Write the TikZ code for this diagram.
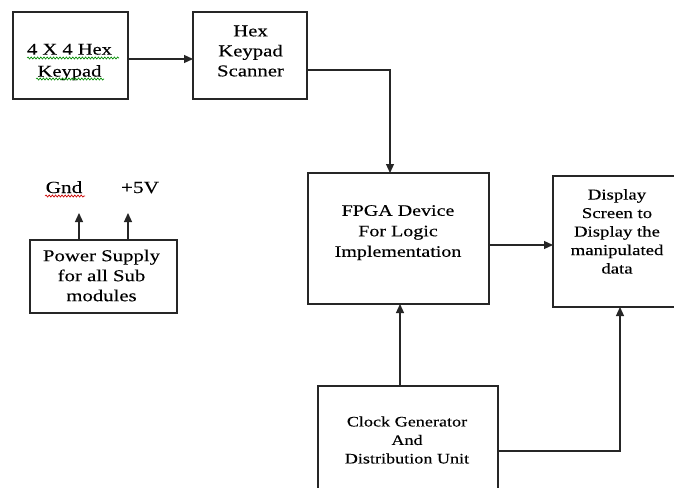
\documentclass[tikz,border=0pt]{standalone}
\usepackage{fontspec}
\setmainfont[FakeStretch=1.25,FakeBold=0.2]{Liberation Serif}
\usetikzlibrary{arrows.meta,decorations.pathmorphing}
\begin{document}
\begin{tikzpicture}[x=1pt,y=-1pt,
  box/.style={draw=black!85,line width=1.2pt,rectangle,inner sep=0pt,outer sep=0pt},
  conn/.style={draw=black!85,line width=1.2pt,-{Triangle[length=9pt,width=8pt]}},
  lbl/.style={align=center,inner sep=0pt,text=black},
  wavyg/.style={draw=green!55!black,line width=0.7pt,decorate,decoration={snake,amplitude=1pt,segment length=3.2pt}},
  wavyr/.style={draw=red!80!black,line width=0.7pt,decorate,decoration={snake,amplitude=1pt,segment length=3.2pt}}]
\useasboundingbox (0,0) rectangle (674,487);
\clip (0,0) rectangle (674,487);
\fill[white] (0,0) rectangle (674,487);

% boxes
\node[box,minimum width=115pt,minimum height=87pt] (kp) at (70.5,55.5) {};
\node[box,minimum width=114pt,minimum height=87pt] (sc) at (250,55.5) {};
\node[box,minimum width=147pt,minimum height=73pt] (pw) at (103.5,276.5) {};
\node[box,minimum width=181pt,minimum height=131pt] (fp) at (398.5,238.5) {};
\node[box,minimum width=137pt,minimum height=131pt] (ds) at (621.5,241.5) {};
\node[box,minimum width=180pt,minimum height=134pt] (ck) at (408,453) {};

% texts
\node[lbl,font=\fontsize{16.4}{22}\selectfont] (kpt) at (69.5,62) {4 X 4 Hex\\Keypad};
\node[lbl,font=\fontsize{16.6}{20}\selectfont] (sct) at (250.5,51) {Hex\\Keypad\\Scanner};
\node[lbl,font=\fontsize{16}{20.5}\selectfont] (fpt) at (398,232.7) {FPGA Device\\For Logic\\Implementation};
\node[lbl,font=\fontsize{15}{18.5}\selectfont] (dst) at (617,231.4) {Display\\Screen to\\Display the\\manipulated\\data};
\node[lbl,font=\fontsize{14.5}{18.5}\selectfont] (ckt) at (407,440) {Clock Generator\\And\\Distribution Unit};
\node[lbl,font=\fontsize{16.6}{20}\selectfont] (pwt) at (101.5,275.5) {Power Supply\\for all Sub\\modules};
\node[lbl,font=\fontsize{17}{20}\selectfont,anchor=base] (gnd) at (64,193) {Gnd};
\node[lbl,font=\fontsize{17}{20}\selectfont,anchor=base] (vcc) at (140,193) {+5V};

% spell-check underlines
\draw[wavyg] (27,58) -- (119,58);
\draw[wavyg] (36,79) -- (104,79);
\draw[wavyr] (45,196) -- (85,196);

% connectors
\coordinate (gt) at (79,213);
\coordinate (vt) at (128,213);
\draw[conn] (kp.east |- 0,59) -- (sc.west |- 0,59);
\draw[conn] (sc.east |- 0,70) -| (fp.north -| 390,0);
\draw[conn] (fp.east |- 0,245) -- (ds.west |- 0,245);
\draw[conn] (ck.north -| 400,0) -- (fp.south -| 400,0);
\draw[conn] (ck.east |- 0,451) -| (ds.south -| 620,0);
\draw[conn] (pw.north -| 79,0) -- (gt);
\draw[conn] (pw.north -| 128,0) -- (vt);
\end{tikzpicture}
\end{document}
